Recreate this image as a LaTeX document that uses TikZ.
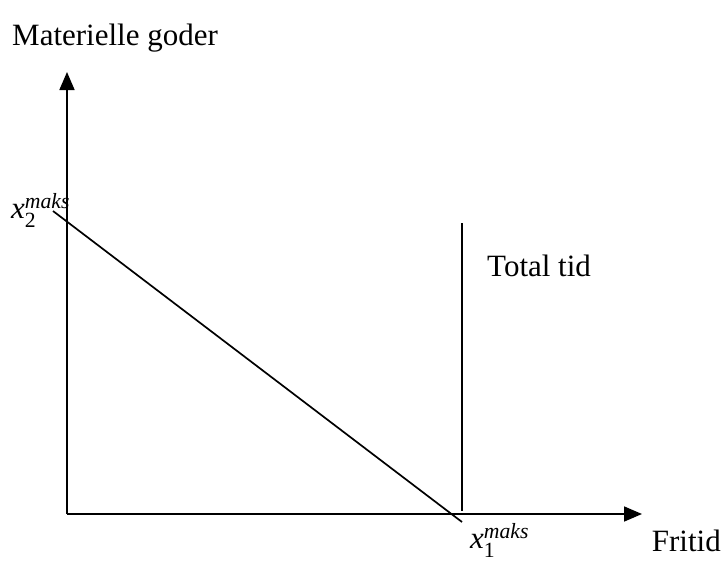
\documentclass[tikz,border=0pt]{standalone}
\usepackage{amsmath}
\usepackage{fontspec}
\setmainfont{Liberation Serif}
\usetikzlibrary{arrows.meta}
\begin{document}
\begin{tikzpicture}[x=1pt,y=-1pt,
  line/.style={line width=1.7pt,black},
  axis/.style={line width=1.7pt,black,-{Triangle[length=18pt,width=15pt]}},
  lbl/.style={font=\fontsize{31}{36}\selectfont,inner sep=0pt,anchor=base west}]
\useasboundingbox (0,0) rectangle (723,565);
\coordinate (O) at (67,514);
\coordinate (ytip) at (67,72);
\coordinate (xtip) at (642,514);
\coordinate (dA) at (53,211);
\coordinate (dB) at (462,522);
\coordinate (vT) at (462,223);
\coordinate (vB) at (462,511);
\draw[axis] (O) -- (ytip);
\draw[axis] (O) -- (xtip);
\draw[line] (dA) -- (dB);
\draw[line] (vT) -- (vB);
\node[lbl] (ylab) at (12,45) {Materielle goder};
\node[lbl] (tot) at (487,276) {Total tid};
\node[lbl,anchor=base east] (xlab) at (721,551) {Fritid};
\node[lbl] (x2) at (11,218) {$\textit{x}^{\textit{maks}}_{\text{2}}$};
\node[lbl] (x1) at (470,548) {$\textit{x}^{\textit{maks}}_{\text{1}}$};
\end{tikzpicture}
\end{document}
